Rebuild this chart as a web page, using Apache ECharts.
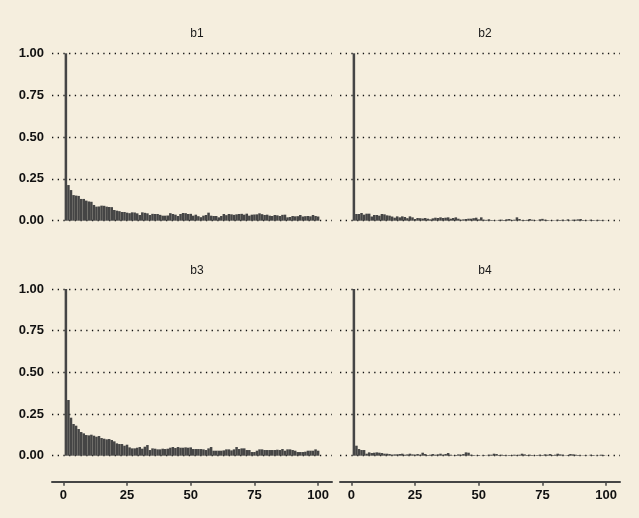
<!DOCTYPE html>
<html>
<head>
<meta charset="utf-8">
<script src="https://cdn.jsdelivr.net/npm/echarts@6/dist/echarts.min.js"></script>
<style>
html,body{margin:0;padding:0;background:#F5EEDE;}
#chart{width:639px;height:518px;}
</style>
</head>
<body>
<div id="chart"></div>
<script>
// Panel titles
const panels = ["b1", "b2", "b3", "b4"];
// Tick labels
const xTicks = [0, 25, 50, 75, 100];
const yTicks = [0, 0.25, 0.5, 0.75, 1];

// Autocorrelation values, lags 0..99 (plotted at positions 1..100)
const b1 = [1.00,0.213,0.183,0.153,0.150,0.148,0.130,0.130,0.120,0.115,
0.113,0.094,0.084,0.085,0.090,0.089,0.084,0.082,0.081,0.064,
0.060,0.057,0.052,0.052,0.048,0.045,0.050,0.049,0.044,0.034,
0.050,0.047,0.044,0.034,0.041,0.040,0.040,0.035,0.030,0.030,
0.031,0.045,0.040,0.036,0.028,0.040,0.046,0.045,0.040,0.041,
0.030,0.036,0.027,0.021,0.030,0.034,0.048,0.030,0.028,0.028,
0.020,0.028,0.040,0.033,0.040,0.038,0.035,0.038,0.040,0.041,
0.036,0.042,0.030,0.036,0.037,0.038,0.044,0.039,0.034,0.036,
0.030,0.028,0.034,0.032,0.028,0.035,0.036,0.020,0.022,0.028,
0.026,0.027,0.034,0.025,0.027,0.028,0.026,0.034,0.028,0.025];

const b2 = [1.00,0.040,0.040,0.046,0.036,0.042,0.042,0.025,0.034,0.034,
0.030,0.040,0.038,0.032,0.030,0.025,0.018,0.026,0.020,0.026,
0.022,0.015,0.026,0.020,0.010,0.016,0.015,0.013,0.016,0.012,
0.008,0.014,0.018,0.016,0.020,0.016,0.018,0.020,0.012,0.016,
0.020,0.012,0.006,0.008,0.010,0.012,0.012,0.015,0.018,0.008,
0.020,0.006,0.005,0.008,0.004,0.003,0.002,0.005,0.006,0.004,
0.008,0.010,0.004,0.006,0.020,0.010,0.003,0.004,0.005,0.010,
0.006,0.003,0.002,0.008,0.011,0.006,0.004,0.002,0.003,0.002,
0.006,0.004,0.006,0.003,0.008,0.002,0.006,0.006,0.008,0.010,
0.004,0.003,0.002,0.006,0.004,0.002,0.005,0.003,0.002,0.001];

const b3 = [1.00,0.334,0.228,0.190,0.180,0.160,0.142,0.134,0.124,0.122,
0.126,0.120,0.114,0.118,0.106,0.102,0.098,0.100,0.094,0.086,
0.074,0.070,0.070,0.060,0.066,0.050,0.044,0.044,0.048,0.052,
0.042,0.054,0.064,0.034,0.044,0.042,0.038,0.038,0.042,0.040,
0.042,0.048,0.052,0.046,0.052,0.048,0.048,0.050,0.048,0.050,
0.040,0.040,0.040,0.040,0.038,0.034,0.044,0.052,0.030,0.030,
0.030,0.030,0.032,0.038,0.038,0.032,0.038,0.052,0.040,0.044,
0.044,0.034,0.034,0.022,0.022,0.030,0.038,0.038,0.034,0.034,
0.034,0.034,0.034,0.036,0.034,0.040,0.030,0.038,0.038,0.034,
0.030,0.022,0.022,0.022,0.024,0.030,0.030,0.030,0.038,0.030];

const b4 = [1.00,0.060,0.040,0.034,0.034,0.012,0.020,0.016,0.018,0.020,
0.018,0.016,0.012,0.012,0.010,0.006,0.008,0.008,0.010,0.012,
0.006,0.008,0.012,0.008,0.006,0.010,0.006,0.018,0.010,0.004,
0.006,0.010,0.006,0.008,0.012,0.006,0.010,0.016,0.006,0.002,
0.004,0.008,0.006,0.010,0.020,0.018,0.006,0.004,0.002,0.004,
0.001,0.004,0.002,0.006,0.006,0.012,0.010,0.004,0.006,0.004,
0.002,0.004,0.004,0.006,0.004,0.006,0.012,0.008,0.004,0.006,
0.004,0.002,0.004,0.006,0.004,0.008,0.006,0.010,0.004,0.006,
0.012,0.008,0.006,0.002,0.004,0.010,0.008,0.006,0.004,0.002,
0.002,0.004,0.001,0.006,0.004,0.001,0.002,0.006,0.004,0.001];

const values = [b1, b2, b3, b4];

const FONT = "Liberation Sans, Arial, Helvetica, sans-serif";
const BAR = "#454545";
const gridsPos = [
  {left: 52, top: 53.3, width: 280, height: 167.4},
  {left: 340, top: 53.3, width: 280, height: 167.4},
  {left: 52, top: 289, width: 280, height: 166.7},
  {left: 340, top: 289, width: 280, height: 166.7}
];

const option = {
  backgroundColor: "#F5EEDE",
  animation: false,
  title: panels.map((p, i) => ({
    text: p,
    left: gridsPos[i].left + gridsPos[i].width / 2,
    top: i < 2 ? 23 : 260,
    textAlign: "center",
    textStyle: {fontFamily: FONT, fontSize: 12, fontWeight: "normal", color: "#1a1a1a"}
  })),
  grid: gridsPos,
  xAxis: gridsPos.map((g, i) => ({
    type: "value",
    gridIndex: i,
    position: "bottom",
    min: -4.45,
    max: 105.45,
    show: i >= 2,
    offset: 26,
    splitLine: {show: false},
    axisLine: {show: true, onZero: false, lineStyle: {color: "#454545", width: 2}},
    axisTick: {show: true, customValues: xTicks, length: 4, lineStyle: {color: "#454545", width: 1.5}},
    axisLabel: {
      customValues: xTicks, margin: 7,
      fontFamily: FONT, fontSize: 13, fontWeight: "bold", color: "#111"
    }
  })),
  yAxis: gridsPos.map((g, i) => ({
    type: "value",
    gridIndex: i,
    min: 0,
    max: 1,
    interval: 0.25,
    axisLine: {show: false},
    axisTick: {show: false},
    splitLine: {show: true, lineStyle: {color: "#111", width: 1.3, type: [1.3, 4.4]}},
    axisLabel: {
      show: i % 2 === 0, margin: 8,
      formatter: v => v.toFixed(2),
      fontFamily: FONT, fontSize: 13, fontWeight: "bold", color: "#111"
    }
  })),
  series: values.map((vals, i) => ({
    type: "bar",
    xAxisIndex: i,
    yAxisIndex: i,
    barWidth: 2.52,
    itemStyle: {color: BAR},
    data: vals.map((v, k) => [k + 1, v])
  }))
};

const chart = echarts.init(document.getElementById("chart"), null, {renderer: "canvas"});
chart.setOption(option);
</script>
</body>
</html>
